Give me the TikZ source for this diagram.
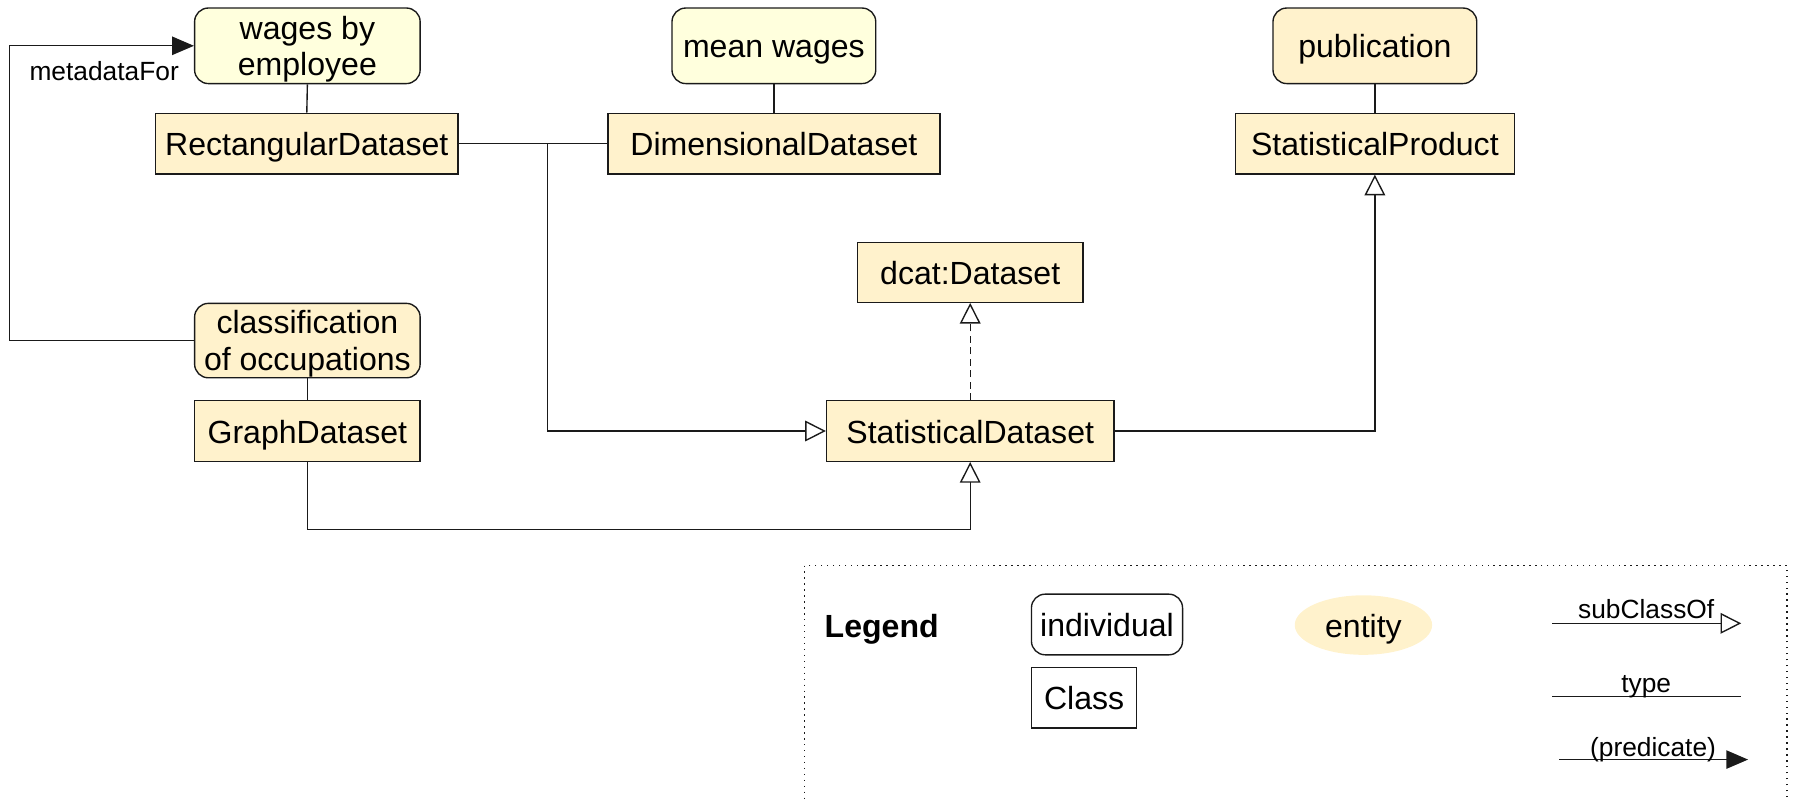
\documentclass[tikz,border=0pt]{standalone}
\usepackage{fontspec}
\setmainfont{Liberation Sans}
\usetikzlibrary{arrows.meta,shapes.geometric}
\definecolor{clsfill}{HTML}{FFF2CC}
\definecolor{indfill}{HTML}{FFFFDD}
\definecolor{ln}{HTML}{1A1A1A}
\begin{document}
\begin{tikzpicture}[x=0.5pt,y=-0.5pt,
  every node/.style={font=\fontsize{14}{16}\selectfont, inner sep=0pt, text=black},
  one/.style={text height=10.6pt, text depth=0pt},
  two/.style={text depth=0pt, align=center},
  cls/.style={rectangle, one, draw=ln, line width=0.6pt, fill=clsfill, minimum height=26.5pt},
  indshape/.style={rectangle, rounded corners=6pt, draw=ln, line width=0.6pt, fill=indfill, minimum height=33pt},
  typeline/.style={draw=ln, line width=0.6pt},
  sub/.style={draw=ln, line width=0.6pt, -{Triangle[open, length=9pt, width=9pt, fill=white]}},
  pred/.style={draw=ln, line width=0.6pt, -{Triangle[length=9.5pt, width=8pt]}},
  small/.style={font=\fontsize{11.5}{13}\selectfont, anchor=base}
]
\useasboundingbox (0,0) rectangle (1568,698);

% individuals
\node[indshape, two, minimum width=98.5pt] (wages) at (268.5,40) {wages by\\employee};
\node[indshape, one, minimum width=89pt] (mean) at (676,40) {mean wages};
\node[indshape, one, fill=clsfill, minimum width=89pt] (pub) at (1201,40) {publication};
\node[indshape, two, fill=clsfill, minimum width=98.5pt, minimum height=32.5pt] (classif) at (268.5,297.5) {classification\\of occupations};

% classes
\node[cls, minimum width=132pt] (rect) at (268,125.5) {RectangularDataset};
\node[cls, minimum width=145pt] (dim) at (676,125.5) {DimensionalDataset};
\node[cls, minimum width=122pt] (prod) at (1201,125.5) {StatisticalProduct};
\node[cls, minimum width=98.5pt, minimum height=26pt] (dcat) at (847.5,238) {dcat:Dataset};
\node[cls, minimum width=98.5pt] (graph) at (268.5,376.5) {GraphDataset};
\node[cls, minimum width=125.5pt] (stat) at (847.5,376.5) {StatisticalDataset};

% type links
\draw[typeline] (wages.south) -- (rect.north);
\draw[typeline] (mean.south) -- (dim.north);
\draw[typeline] (pub.south) -- (prod.north);
\draw[typeline] (classif.south) -- (graph.north);

% subclass links
\draw[typeline] (rect.east) -- (dim.west);
\coordinate (junc) at (478,125.5);
\draw[sub] (junc) |- (stat.west);
\draw[sub] (graph.south) -- ++(0,59) -| (stat.south);
\draw[sub, dashed, dash pattern=on 3pt off 2pt] (stat.north) -- (dcat.south);
\draw[sub] (stat.east) -| (prod.south);

% predicate
\draw[pred] (classif.west) -- ++(-161,0) |- (wages.west);
\node[small, anchor=center, text height=8.2pt, text depth=0pt] (mdf) at (91,62) {metadataFor};

% legend
\draw[ln, line width=0.6pt, dotted] (703,494) rectangle (1561,720);
\node[one, font=\fontsize{14}{16}\selectfont\bfseries, anchor=west] (leg) at (720,546) {Legend};
\node[indshape, one, fill=white, minimum width=66pt, minimum height=26.5pt] (lind) at (967,545.5) {individual};
\node[cls, fill=white, minimum width=46pt] (lcls) at (947,609.5) {Class};
\node[ellipse, one, fill=clsfill, minimum width=60pt, minimum height=26pt] (lent) at (1191,546) {entity};

\coordinate (s1) at (1356,544.5);
\coordinate (s2) at (1521,544.5);
\draw[sub] (s1) -- (s2);
\node[small] (lsub) at (1438,540) {subClassOf};

\coordinate (t1) at (1356,608.5);
\coordinate (t2) at (1521,608.5);
\draw[typeline] (t1) -- (t2);
\node[small] (ltype) at (1438,605) {type};

\coordinate (p1) at (1362,663.5);
\coordinate (p2) at (1527,663.5);
\draw[pred] (p1) -- (p2);
\node[small] (lpred) at (1444,661) {(predicate)};
\end{tikzpicture}
\end{document}
